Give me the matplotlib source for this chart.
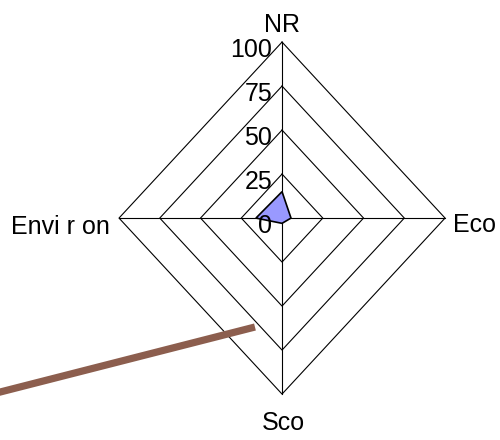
import numpy as np
import matplotlib
matplotlib.use("Agg")
import matplotlib.pyplot as plt

# axes of the radar, clockwise from the top
categories = ["NR", "Eco", "Sco", "Envi r on"]
values = [15, 5.5, 3, 16]
ring_levels = [0, 25, 50, 75, 100]
tick_labels = ["0", "25", "50", "75", "100"]

# stray line in the source picture (value units)
stray_x = [-185, -16.6]
stray_y = [-101.7, -61.9]

plt.rcParams['font.family'] = ['Liberation Sans', 'DejaVu Sans']
fs = 18

fig = plt.figure(figsize=(5, 4.4), dpi=100)
ax = fig.add_axes([0, 0, 1, 1])
ax.set_xlim(-173.0, 133.7)
ax.set_ylim(-126.1, 123.9)
ax.axis("off")

# unit direction for each category: up, right, down, left
dirs = np.array([[0, 1], [1, 0], [0, -1], [-1, 0]])

# rings
for r in ring_levels[1:]:
    pts = np.vstack([dirs * r, dirs[:1] * r])
    ax.plot(pts[:, 0], pts[:, 1], color="black", lw=0.8, zorder=1)

# spokes
for d in dirs:
    ax.plot([0, d[0] * 100], [0, d[1] * 100], color="black", lw=0.8, zorder=1)

# data polygon
poly = dirs * np.array(values)[:, None]
ax.fill(poly[:, 0], poly[:, 1], facecolor="#9999ff", edgecolor="black", lw=1.2, zorder=3)

# tick labels along the top axis
for r, t in zip(ring_levels, tick_labels):
    ax.text(-6, r - 4.5, t, ha="right", va="center", fontsize=fs, zorder=4)

# category labels
ax.text(0, 109.7, categories[0], ha="center", va="center", fontsize=fs)
ax.text(104.9, -4, categories[1], ha="left", va="center", fontsize=fs)
ax.text(0.6, -116.5, categories[2], ha="center", va="center", fontsize=fs)
ax.text(-105.5, -5.1, categories[3], ha="right", va="center", fontsize=fs)

ax.plot(stray_x, stray_y, color="#8c5e4e", lw=5.2, solid_capstyle="butt", zorder=5)

fig.savefig("out.png", dpi=100)
